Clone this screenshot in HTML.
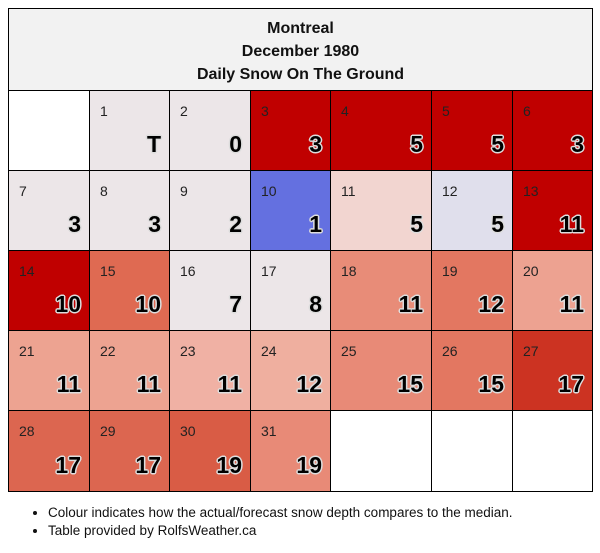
<!DOCTYPE html>
<html><head><meta charset="utf-8"><style>
body{margin:0;width:600px;height:553px;background:#fff;font-family:"Liberation Sans","DejaVu Sans",sans-serif;overflow:hidden;position:relative}
#hdr{position:absolute;left:8px;top:8px;width:585px;height:83px;background:#f2f2f2;border:1px solid #000;text-align:center;font-weight:bold;font-size:16px;line-height:23px;color:#111;padding-top:8px;box-sizing:border-box}
.cell{position:absolute;border:1px solid #000;box-sizing:border-box}
.day{position:absolute;left:10px;top:12px;font-size:14px;color:#222}
.val{position:absolute;right:8px;bottom:12px;font-size:23px;font-weight:bold;color:#000;text-shadow:-1.5px 0 #ddd,1.5px 0 #ddd,0 -1.5px #ddd,0 1.5px #ddd,-1px -1px #ddd,1px 1px #ddd,-1px 1px #ddd,1px -1px #ddd}
ul{position:absolute;left:28px;top:504px;margin:0;padding-left:20px;font-size:13.5px;line-height:18px;color:#111}
</style></head><body>
<div id="hdr">Montreal<br>December 1980<br>Daily Snow On The Ground</div>
<div id="grid"></div>
<ul><li>Colour indicates how the actual/forecast snow depth compares to the median.</li><li>Table provided by RolfsWeather.ca</li></ul>
<script>
const days=[1,2,3,4,5,6,7,8,9,10,11,12,13,14,15,16,17,18,19,20,21,22,23,24,25,26,27,28,29,30,31];
const values=["T","0","3","5","5","3","3","3","2","1","5","5","11","10","10","7","8","11","12","11","11","11","11","12","15","15","17","17","17","19","19"];
const colors=["#ece6e8","#ece6e8","#c00000","#c00000","#c00000","#c00000","#ece6e8","#ece6e8","#ece6e8","#6470e0","#f2d5d0","#e0dfec","#c00000","#c00000","#df6a52","#ece6e8","#ece6e8","#e88c78","#e37761","#eda291","#eda391","#eda391","#f0b1a4","#efaf9f","#e88a77","#e37761","#cc3322","#dc6650","#dc6650","#d95c45","#e88a77"];
const startCol=1;
const colX=[8,89,169,250,330,431,512,592];
const rowY=[90,170,250,330,410,491];
const g=document.getElementById('grid');
for(let i=0;i<35;i++){
  const c=i%7,r=Math.floor(i/7);
  const d=document.createElement('div');
  d.className='cell';
  d.style.left=colX[c]+'px';d.style.top=rowY[r]+'px';
  d.style.width=(colX[c+1]-colX[c]+1)+'px';d.style.height=(rowY[r+1]-rowY[r]+1)+'px';
  const k=i-startCol;
  if(k>=0&&k<days.length){
    d.style.background=colors[k];
    
    
    d.innerHTML='<span class="day">'+days[k]+'</span><span class="val">'+values[k]+'</span>';
  } else {
    d.style.background='#fff';
    
    
  }
  g.appendChild(d);
}
</script>
</body></html>
